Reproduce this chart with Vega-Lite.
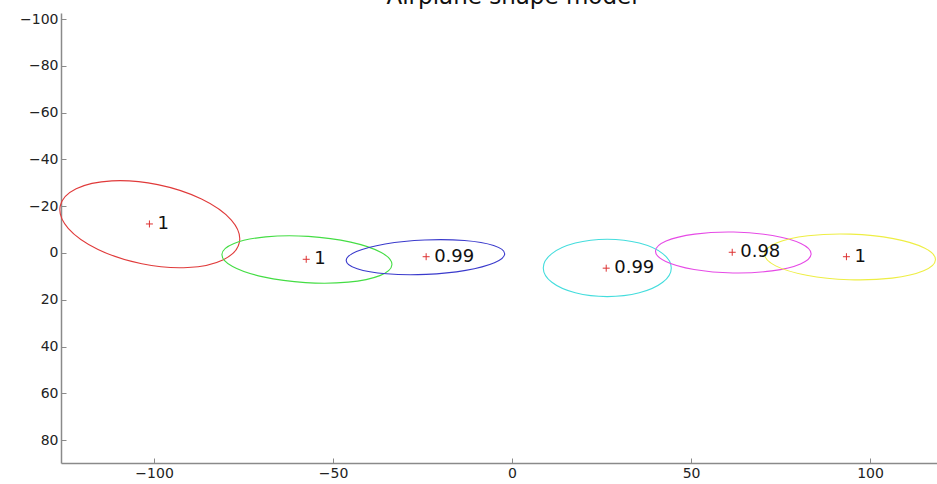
{
  "$schema": "https://vega.github.io/schema/vega-lite/v6.json",
  "width": 876,
  "height": 450,
  "autosize": {"type": "none"},
  "padding": {"left": 61, "top": 13, "right": 0, "bottom": 21},
  "background": "white",
  "title": {
    "text": "Airplane shape model",
    "font": "DejaVu Sans",
    "fontSize": 23,
    "fontWeight": "normal",
    "color": "#111111",
    "anchor": "middle",
    "frame": "group",
    "dx": 13,
    "offset": -15,
    "baseline": "alphabetic"
  },
  "config": {
    "view": {"stroke": null},
    "axis": {
      "domainColor": "#8a8a8a",
      "domainWidth": 1.5,
      "tickColor": "#8a8a8a",
      "tickWidth": 1,
      "tickSize": -5,
      "grid": false,
      "labelFont": "DejaVu Sans",
      "labelFontSize": 14,
      "labelColor": "#222222",
      "title": null
    }
  },
  "datasets": {
    "ellipses": [
      {"id": "r", "i": 0, "x": -76.17, "y": -4.57},
      {"id": "r", "i": 1, "x": -80.64, "y": 2.86},
      {"id": "r", "i": 2, "x": -90.61, "y": 6.23},
      {"id": "r", "i": 3, "x": -103.43, "y": 4.63},
      {"id": "r", "i": 4, "x": -115.65, "y": -1.51},
      {"id": "r", "i": 5, "x": -123.99, "y": -10.53},
      {"id": "r", "i": 6, "x": -126.23, "y": -20.03},
      {"id": "r", "i": 7, "x": -121.77, "y": -27.46},
      {"id": "r", "i": 8, "x": -111.79, "y": -30.83},
      {"id": "r", "i": 9, "x": -98.97, "y": -29.23},
      {"id": "r", "i": 10, "x": -86.75, "y": -23.09},
      {"id": "r", "i": 11, "x": -78.41, "y": -14.08},
      {"id": "g", "i": 0, "x": -33.56, "y": 5.05},
      {"id": "g", "i": 1, "x": -36.94, "y": 9.69},
      {"id": "g", "i": 2, "x": -45.78, "y": 12.48},
      {"id": "g", "i": 3, "x": -57.7, "y": 12.68},
      {"id": "g", "i": 4, "x": -69.52, "y": 10.23},
      {"id": "g", "i": 5, "x": -78.06, "y": 5.79},
      {"id": "g", "i": 6, "x": -81.04, "y": 0.55},
      {"id": "g", "i": 7, "x": -77.66, "y": -4.09},
      {"id": "g", "i": 8, "x": -68.82, "y": -6.88},
      {"id": "g", "i": 9, "x": -56.9, "y": -7.08},
      {"id": "g", "i": 10, "x": -45.08, "y": -4.63},
      {"id": "g", "i": 11, "x": -36.54, "y": -0.19},
      {"id": "b", "i": 0, "x": -2.07, "y": 0.32},
      {"id": "b", "i": 1, "x": -4.93, "y": 4.19},
      {"id": "b", "i": 2, "x": -12.95, "y": 7.43},
      {"id": "b", "i": 3, "x": -23.99, "y": 9.15},
      {"id": "b", "i": 4, "x": -35.09, "y": 8.91},
      {"id": "b", "i": 5, "x": -43.26, "y": 6.76},
      {"id": "b", "i": 6, "x": -46.33, "y": 3.28},
      {"id": "b", "i": 7, "x": -43.47, "y": -0.6},
      {"id": "b", "i": 8, "x": -35.45, "y": -3.83},
      {"id": "b", "i": 9, "x": -24.41, "y": -5.55},
      {"id": "b", "i": 10, "x": -13.31, "y": -5.31},
      {"id": "b", "i": 11, "x": -5.15, "y": -3.16},
      {"id": "c", "i": 0, "x": 44.48, "y": 6.4},
      {"id": "c", "i": 1, "x": 42.08, "y": 12.54},
      {"id": "c", "i": 2, "x": 35.54, "y": 17.03},
      {"id": "c", "i": 3, "x": 26.6, "y": 18.67},
      {"id": "c", "i": 4, "x": 17.66, "y": 17.03},
      {"id": "c", "i": 5, "x": 11.12, "y": 12.54},
      {"id": "c", "i": 6, "x": 8.72, "y": 6.4},
      {"id": "c", "i": 7, "x": 11.12, "y": 0.27},
      {"id": "c", "i": 8, "x": 17.66, "y": -4.23},
      {"id": "c", "i": 9, "x": 26.6, "y": -5.87},
      {"id": "c", "i": 10, "x": 35.54, "y": -4.23},
      {"id": "c", "i": 11, "x": 42.08, "y": 0.27},
      {"id": "m", "i": 0, "x": 83.53, "y": 0.4},
      {"id": "m", "i": 1, "x": 80.57, "y": 4.69},
      {"id": "m", "i": 2, "x": 72.58, "y": 7.67},
      {"id": "m", "i": 3, "x": 61.7, "y": 8.54},
      {"id": "m", "i": 4, "x": 50.84, "y": 7.07},
      {"id": "m", "i": 5, "x": 42.93, "y": 3.65},
      {"id": "m", "i": 6, "x": 40.07, "y": -0.8},
      {"id": "m", "i": 7, "x": 43.03, "y": -5.09},
      {"id": "m", "i": 8, "x": 51.02, "y": -8.07},
      {"id": "m", "i": 9, "x": 61.9, "y": -8.94},
      {"id": "m", "i": 10, "x": 72.76, "y": -7.47},
      {"id": "m", "i": 11, "x": 80.67, "y": -4.05},
      {"id": "y", "i": 0, "x": 118.27, "y": 2.91},
      {"id": "y", "i": 1, "x": 114.97, "y": 7.62},
      {"id": "y", "i": 2, "x": 106.16, "y": 10.74},
      {"id": "y", "i": 3, "x": 94.19, "y": 11.44},
      {"id": "y", "i": 4, "x": 82.28, "y": 9.53},
      {"id": "y", "i": 5, "x": 73.63, "y": 5.52},
      {"id": "y", "i": 6, "x": 70.53, "y": 0.49},
      {"id": "y", "i": 7, "x": 73.84, "y": -4.22},
      {"id": "y", "i": 8, "x": 82.64, "y": -7.34},
      {"id": "y", "i": 9, "x": 94.61, "y": -8.04},
      {"id": "y", "i": 10, "x": 106.52, "y": -6.13},
      {"id": "y", "i": 11, "x": 115.18, "y": -2.12}
    ],
    "centers": [
      {"id": "r", "x": -101.3, "y": -12.4, "label": "1"},
      {"id": "g", "x": -57.5, "y": 2.7, "label": "1"},
      {"id": "b", "x": -24.0, "y": 1.6, "label": "0.99"},
      {"id": "c", "x": 26.3, "y": 6.5, "label": "0.99"},
      {"id": "m", "x": 61.5, "y": -0.3, "label": "0.98"},
      {"id": "y", "x": 93.4, "y": 1.6, "label": "1"}
    ]
  },
  "encoding": {
    "x": {
      "field": "x",
      "type": "quantitative",
      "scale": {"domain": [-126, 118.7], "nice": false, "zero": false},
      "axis": {"values": [-100, -50, 0, 50, 100], "labelPadding": 8}
    },
    "y": {
      "field": "y",
      "type": "quantitative",
      "scale": {"domain": [-102.6, 89.8], "reverse": true, "nice": false, "zero": false},
      "axis": {"values": [-100, -80, -60, -40, -20, 0, 20, 40, 60, 80], "labelPadding": 8}
    }
  },
  "layer": [
    {
      "data": {"name": "ellipses"},
      "mark": {"type": "line", "interpolate": "cardinal-closed", "strokeWidth": 1.1},
      "encoding": {
        "color": {
          "field": "id",
          "type": "nominal",
          "scale": {
            "domain": ["r", "g", "b", "c", "m", "y"],
            "range": ["#e03a3a", "#44dd44", "#3a3acc", "#44dddd", "#e64ae6", "#eeee44"]
          },
          "legend": null
        },
        "detail": {"field": "id"},
        "order": {"field": "i", "type": "quantitative"}
      }
    },
    {
      "data": {"name": "centers"},
      "mark": {
        "type": "point",
        "shape": "M-1,0L1,0M0,-1L0,1",
        "size": 49,
        "filled": false,
        "stroke": "#dd3333",
        "strokeWidth": 1,
        "opacity": 1
      }
    },
    {
      "data": {"name": "centers"},
      "mark": {
        "type": "text",
        "align": "left",
        "baseline": "middle",
        "dx": 8,
        "font": "DejaVu Sans",
        "fontSize": 18,
        "color": "#111111"
      },
      "encoding": {"text": {"field": "label"}}
    }
  ]
}
